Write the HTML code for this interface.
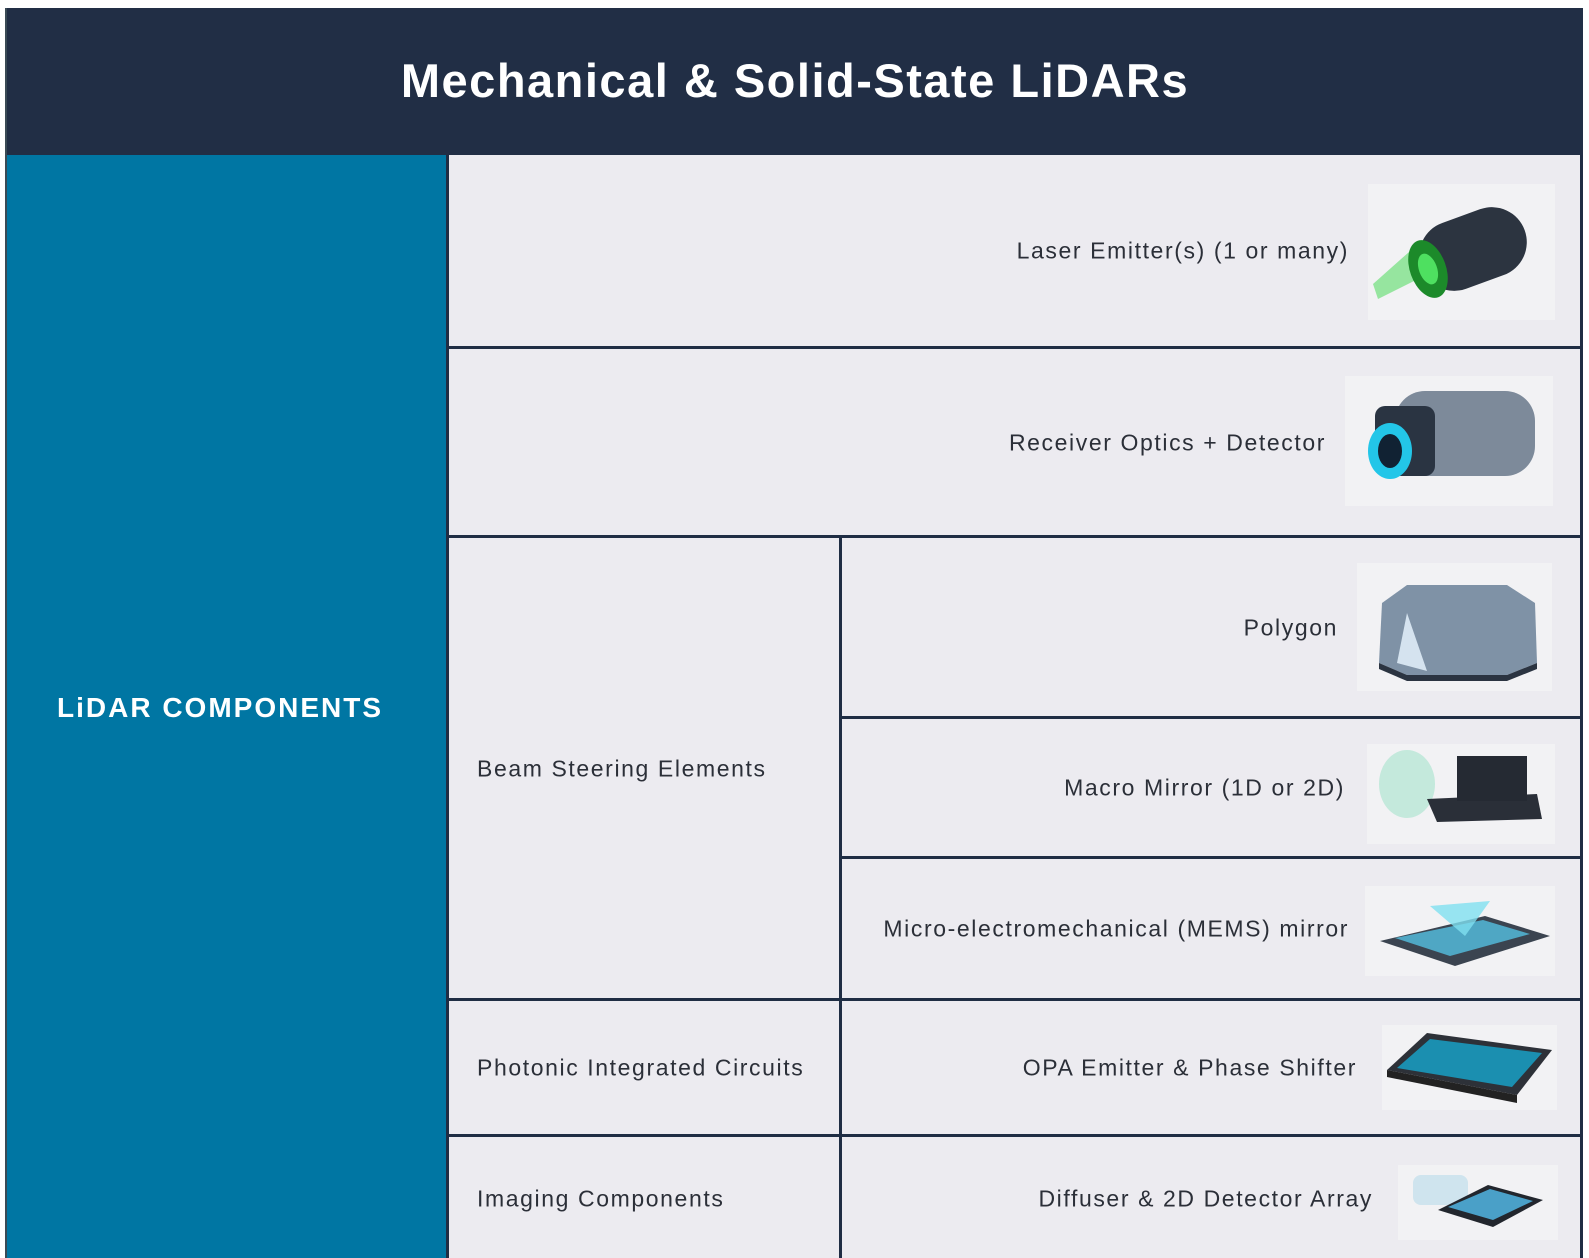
<!DOCTYPE html>
<html><head><meta charset="utf-8"><style>
body{margin:0;width:1589px;height:1258px;background:#fff;position:relative;overflow:hidden;font-family:"Liberation Sans",sans-serif}
.a{position:absolute}
.hd{left:7px;top:8px;width:1576px;height:147px;background:#212e45}
.bl{left:7px;top:155px;width:441px;height:1103px;background:#0076a3}
.cell{position:absolute;background:#ecebf0}
.ln{position:absolute;background:#1f2d44}
.t{position:absolute;color:#2b2f38;font-size:23px;letter-spacing:1.6px;white-space:nowrap;transform:translateY(-50%)}
.r{text-align:right}
</style></head><body>
<div class="a hd"></div>
<div class="a" style="left:7px;top:53px;width:1576px;text-align:center;color:#fff;font-weight:bold;font-size:47px;letter-spacing:1.5px">Mechanical &amp; Solid-State LiDARs</div>
<div class="a bl"></div>
<div class="a" style="left:57px;top:692px;color:#fff;font-weight:bold;font-size:28px;letter-spacing:2px">LiDAR COMPONENTS</div>
<div class="cell" style="left:448px;top:155px;width:1135px;height:1103px"></div>
<div class="ln" style="left:446px;top:155px;width:3px;height:1103px"></div>
<div class="ln" style="left:1580px;top:155px;width:3px;height:1103px"></div>
<div class="ln" style="left:5px;top:8px;width:2px;height:1250px;background:#3a4a55"></div>
<div class="ln" style="left:448px;top:346px;width:1135px;height:3px"></div>
<div class="ln" style="left:448px;top:535px;width:1135px;height:3px"></div>
<div class="ln" style="left:839px;top:537px;width:3px;height:721px"></div>
<div class="ln" style="left:840px;top:716px;width:743px;height:3px"></div>
<div class="ln" style="left:840px;top:856px;width:743px;height:3px"></div>
<div class="ln" style="left:448px;top:998px;width:1135px;height:3px"></div>
<div class="ln" style="left:448px;top:1134px;width:1135px;height:3px"></div>
<div class="t r" style="right:240px;top:251px">Laser Emitter(s) (1 or many)</div>
<div class="t r" style="right:263px;top:443px">Receiver Optics + Detector</div>
<div class="t r" style="right:251px;top:628px">Polygon</div>
<div class="t r" style="right:244px;top:788px">Macro Mirror (1D or 2D)</div>
<div class="t r" style="right:240px;top:929px">Micro-electromechanical (MEMS) mirror</div>
<div class="t r" style="right:232px;top:1068px">OPA Emitter &amp; Phase Shifter</div>
<div class="t r" style="right:216px;top:1199px">Diffuser &amp; 2D Detector Array</div>
<div class="t" style="left:477px;top:769px">Beam Steering Elements</div>
<div class="t" style="left:477px;top:1068px">Photonic Integrated Circuits</div>
<div class="t" style="left:477px;top:1199px">Imaging Components</div>
<svg class="a" style="left:1368px;top:184px" width="187" height="136">
<rect width="187" height="136" fill="#f2f2f4"/>
<polygon points="5,100 50,60 60,90 10,115" fill="#6fe07a" opacity=".7"/>
<rect x="50" y="30" width="110" height="70" rx="35" transform="rotate(-20 105 65)" fill="#2c3440"/>
<ellipse cx="60" cy="85" rx="18" ry="30" transform="rotate(-20 60 85)" fill="#1c8a2a"/>
<ellipse cx="60" cy="85" rx="9" ry="16" transform="rotate(-20 60 85)" fill="#4ee060"/>
</svg>
<svg class="a" style="left:1345px;top:376px" width="208" height="130">
<rect width="208" height="130" fill="#f2f2f4"/>
<rect x="50" y="15" width="140" height="85" rx="30" fill="#7d8a9a"/>
<rect x="30" y="30" width="60" height="70" rx="10" fill="#2a3442"/>
<ellipse cx="45" cy="75" rx="22" ry="28" fill="#23c6e8"/>
<ellipse cx="45" cy="75" rx="12" ry="17" fill="#123"/>
</svg>
<svg class="a" style="left:1357px;top:563px" width="195" height="128">
<rect width="195" height="128" fill="#f2f2f4"/>
<polygon points="25,40 50,22 150,22 178,40 180,100 150,112 50,112 22,100" fill="#7f92a6"/>
<polygon points="22,100 50,112 150,112 180,100 180,106 150,118 50,118 22,106" fill="#2b3441"/>
<polygon points="50,50 70,108 40,100" fill="#d5e3ef"/>
</svg>
<svg class="a" style="left:1367px;top:744px" width="188" height="100">
<rect width="188" height="100" fill="#f2f2f4"/>
<ellipse cx="40" cy="40" rx="28" ry="34" fill="#b8e6d6" opacity=".8"/>
<polygon points="60,55 170,50 175,75 70,78" fill="#2a2f38"/>
<rect x="90" y="12" width="70" height="45" fill="#252a33"/>
</svg>
<svg class="a" style="left:1365px;top:886px" width="190" height="90">
<rect width="190" height="90" fill="#f2f2f4"/>
<polygon points="15,55 120,30 185,50 90,80" fill="#3b4450"/>
<polygon points="30,52 118,34 165,48 85,70" fill="#4fa7c4"/>
<polygon points="65,20 125,15 100,50" fill="#7fe0f0" opacity=".8"/>
</svg>
<svg class="a" style="left:1382px;top:1025px" width="175" height="85">
<rect width="175" height="85" fill="#f2f2f4"/>
<polygon points="5,45 45,8 170,25 135,70" fill="#2d3138"/>
<polygon points="15,43 48,14 160,28 130,62" fill="#1b8fb0"/>
<polygon points="5,45 135,70 135,78 5,52" fill="#222"/>
</svg>
<svg class="a" style="left:1398px;top:1165px" width="160" height="75">
<rect width="160" height="75" fill="#f2f2f4"/>
<rect x="15" y="10" width="55" height="30" rx="8" fill="#cfe4ee"/>
<polygon points="40,45 90,20 145,35 95,62" fill="#22262d"/>
<polygon points="50,42 92,24 135,36 95,55" fill="#4aa0c8"/>
</svg>
</body></html>
